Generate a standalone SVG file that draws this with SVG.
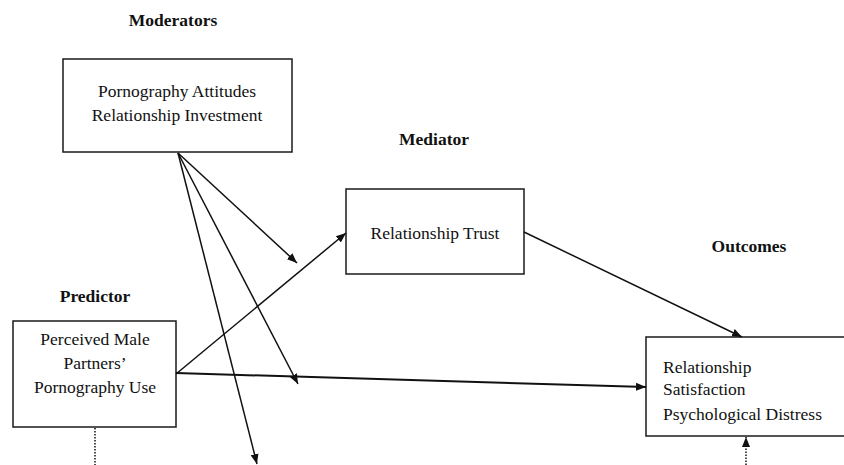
<svg xmlns="http://www.w3.org/2000/svg" width="844" height="465" viewBox="0 0 844 465">
<style>
text{font-family:"Liberation Serif","Times New Roman",serif;font-size:17.5px;fill:#111}
.h{font-weight:bold}
.box{fill:#fff;stroke:#1a1a1a;stroke-width:1.5}
.c{fill:none;stroke:#111;stroke-width:1.5}
.dot{fill:none;stroke:#111;stroke-width:1.5;stroke-dasharray:1.5 1.5}
</style>
<defs>
<marker id="ah" viewBox="0 0 10 10" refX="10" refY="5" markerWidth="10" markerHeight="10" markerUnits="userSpaceOnUse" orient="auto">
<path d="M0,1 L10,5 L0,9 Z" fill="#111"/>
</marker>
</defs>
<g id="labels">
<text class="h" x="173" y="26" text-anchor="middle">Moderators</text>
<text class="h" x="434" y="145" text-anchor="middle">Mediator</text>
<text class="h" x="95" y="302" text-anchor="middle">Predictor</text>
<text class="h" x="749" y="252" text-anchor="middle">Outcomes</text>
</g>
<g id="moderators">
<rect class="box" x="63" y="59" width="229" height="93"/>
<text x="177" y="97" text-anchor="middle">Pornography Attitudes</text>
<text x="177" y="121" text-anchor="middle">Relationship Investment</text>
</g>
<g id="mediator">
<rect class="box" x="346" y="189" width="178" height="85"/>
<text x="435" y="239" text-anchor="middle">Relationship Trust</text>
</g>
<g id="predictor">
<rect class="box" x="13" y="321" width="163" height="106"/>
<text x="95" y="345" text-anchor="middle">Perceived Male</text>
<text x="95" y="369" text-anchor="middle">Partners’</text>
<text x="95" y="393" text-anchor="middle">Pornography Use</text>
</g>
<g id="outcomes">
<rect class="box" x="646" y="337" width="200" height="99"/>
<text x="663" y="373">Relationship</text>
<text x="663" y="395">Satisfaction</text>
<text x="663" y="420">Psychological Distress</text>
</g>
<g id="connectors">
<line class="c" x1="178" y1="153" x2="297" y2="263" marker-end="url(#ah)"/>
<line class="c" x1="178" y1="153" x2="298" y2="384" marker-end="url(#ah)"/>
<line class="c" x1="178" y1="153" x2="257" y2="464" marker-end="url(#ah)"/>
<line class="c" x1="176" y1="374" x2="346" y2="233" marker-end="url(#ah)"/>
<line class="c" x1="176" y1="373" x2="646" y2="387" marker-end="url(#ah)" style="stroke-width:2"/>
<line class="c" x1="524" y1="232" x2="742" y2="337" marker-end="url(#ah)"/>
<line class="dot" x1="95" y1="428" x2="95" y2="465"/>
<line class="dot" x1="746" y1="465" x2="746" y2="437" marker-end="url(#ah)"/>
</g>
</svg>
